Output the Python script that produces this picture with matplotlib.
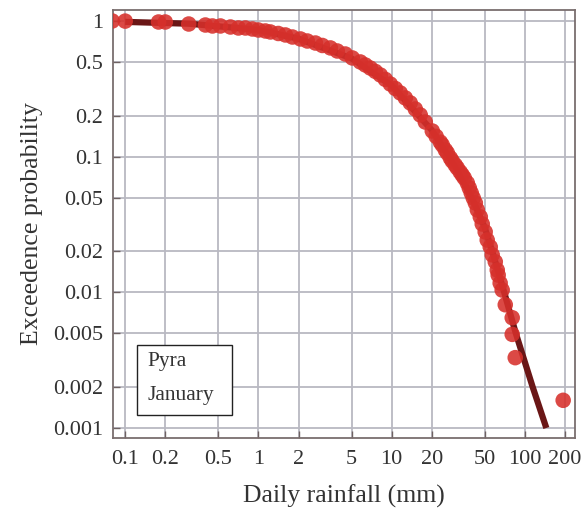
# Exceedance probability of daily rainfall, Pyra, January
import matplotlib
matplotlib.use('Agg')
import matplotlib.pyplot as plt
from matplotlib.patches import Rectangle
from matplotlib.ticker import FixedLocator, FixedFormatter, NullLocator

## data area
# observed daily rainfall (mm) and empirical exceedance probability, read off the picture
rain_obs = [0.08, 0.10, 0.178, 0.20, 0.30, 0.40, 0.452, 0.519, 0.617, 0.708, 0.799,
            0.902, 1.0, 1.128, 1.23, 1.41, 1.594, 1.80, 2.07, 2.33, 2.68, 3.02,
            3.47, 3.91, 4.49, 5.07, 5.82, 6.35, 6.92, 7.55, 8.23, 8.97, 9.78,
            10.66, 11.6, 12.67, 13.8, 15.06, 16.4, 17.9, 20.2, 21.6, 23.2, 24.0,
            25.3, 26.2, 27.6, 28.5, 30.0, 31.1, 32.7, 33.9, 35.1, 37.0, 38.3,
            39.6, 41.0, 42.5, 44.0, 46.3, 47.9, 50.4, 52.2, 55.0, 56.9, 60.0,
            62.1, 63.1, 65.3, 67.6, 71.3, 80.4, 80.4, 84.7, 194.0]
prob_obs = [1.0, 0.998, 0.983, 0.983, 0.950, 0.934, 0.919, 0.919, 0.903, 0.888, 0.888,
            0.873, 0.858, 0.844, 0.830, 0.809, 0.789, 0.762, 0.737, 0.712, 0.688, 0.660,
            0.633, 0.601, 0.571, 0.534, 0.499, 0.474, 0.450, 0.425, 0.400, 0.371, 0.343,
            0.318, 0.295, 0.271, 0.249, 0.2245, 0.203, 0.180, 0.1546, 0.141, 0.128, 0.122,
            0.112, 0.1065, 0.0978, 0.0929, 0.0869, 0.0826, 0.0771, 0.0733, 0.0697, 0.064, 0.0588,
            0.054, 0.0496, 0.0456, 0.0405, 0.036, 0.0319, 0.0279, 0.0243, 0.0216, 0.0189, 0.0168,
            0.0146, 0.0134, 0.0117, 0.0104, 0.0081, 0.0065, 0.0049, 0.0033, 0.0016]

# fitted distribution
rain_fit = [0.1, 0.3, 1.0, 2.0, 5.0, 10.0, 20.0, 30.0, 40.0, 50.0, 57.0, 70.0, 85.5, 114.6, 145.0]
prob_fit = [0.985, 0.955, 0.86, 0.74, 0.53, 0.335, 0.157, 0.085, 0.05, 0.03, 0.02, 0.01,
            0.005, 0.002, 0.001]

x_ticks = [0.1, 0.2, 0.5, 1, 2, 5, 10, 20, 50, 100, 200]
x_labels = ['0.1', '0.2', '0.5', '1', '2', '5', '10', '20', '50', '100', '200']
y_ticks = [0.001, 0.002, 0.005, 0.01, 0.02, 0.05, 0.1, 0.2, 0.5, 1]
y_labels = ['0.001', '0.002', '0.005', '0.01', '0.02', '0.05', '0.1', '0.2', '0.5', '1']

station = 'Pyra'
month = 'January'

## plot area
plt.rcParams['font.family'] = ['Liberation Serif', 'DejaVu Serif']

fig = plt.figure(figsize=(5.85, 5.2), dpi=100)
ax = fig.add_axes([113 / 585, 1 - 438 / 520, 462 / 585, 428 / 520])

ax.set_xscale('log')
ax.set_yscale('log')
ax.set_xlim(0.081, 238)
ax.set_ylim(0.000844, 1.205)

ax.plot(rain_fit, prob_fit, color='#6a1616', lw=4.5, solid_capstyle='butt', zorder=3)
ax.scatter(rain_obs, prob_obs, s=125, color='#d6302b', alpha=0.88, edgecolors='none', zorder=4)

ax.xaxis.set_major_locator(FixedLocator(x_ticks))
ax.xaxis.set_major_formatter(FixedFormatter(x_labels))
ax.yaxis.set_major_locator(FixedLocator(y_ticks))
ax.yaxis.set_major_formatter(FixedFormatter(y_labels))
ax.xaxis.set_minor_locator(NullLocator())
ax.yaxis.set_minor_locator(NullLocator())

ax.grid(True, color='#b9b9c2', lw=1.3, zorder=0)
ax.set_axisbelow(True)
ax.tick_params(direction='in', length=5, width=1, color='#6e6262', labelsize=16,
               labelcolor='#333333')
ax.tick_params(axis='x', pad=9)
ax.tick_params(axis='y', pad=7)
for sp in ax.spines.values():
    sp.set_color('#7a6e6e')
    sp.set_linewidth(1.3)

ax.set_xlabel('Daily rainfall (mm)', fontsize=18.5, color='#333333', labelpad=11)
ax.set_ylabel('Exceedence probability', fontsize=18.5, color='#333333', labelpad=7)

# station / month box
ax.add_patch(Rectangle((0.052, 0.054), 0.206, 0.163, transform=ax.transAxes,
                       facecolor='white', edgecolor='#222222', lw=1.0, zorder=5))
ax.text(0.074, 0.178, station, transform=ax.transAxes, fontsize=15.5, color='#333333',
        va='center', ha='left', zorder=6)
ax.text(0.074, 0.100, month, transform=ax.transAxes, fontsize=15.5, color='#333333',
        va='center', ha='left', zorder=6)

fig.savefig('out.png', dpi=100)
